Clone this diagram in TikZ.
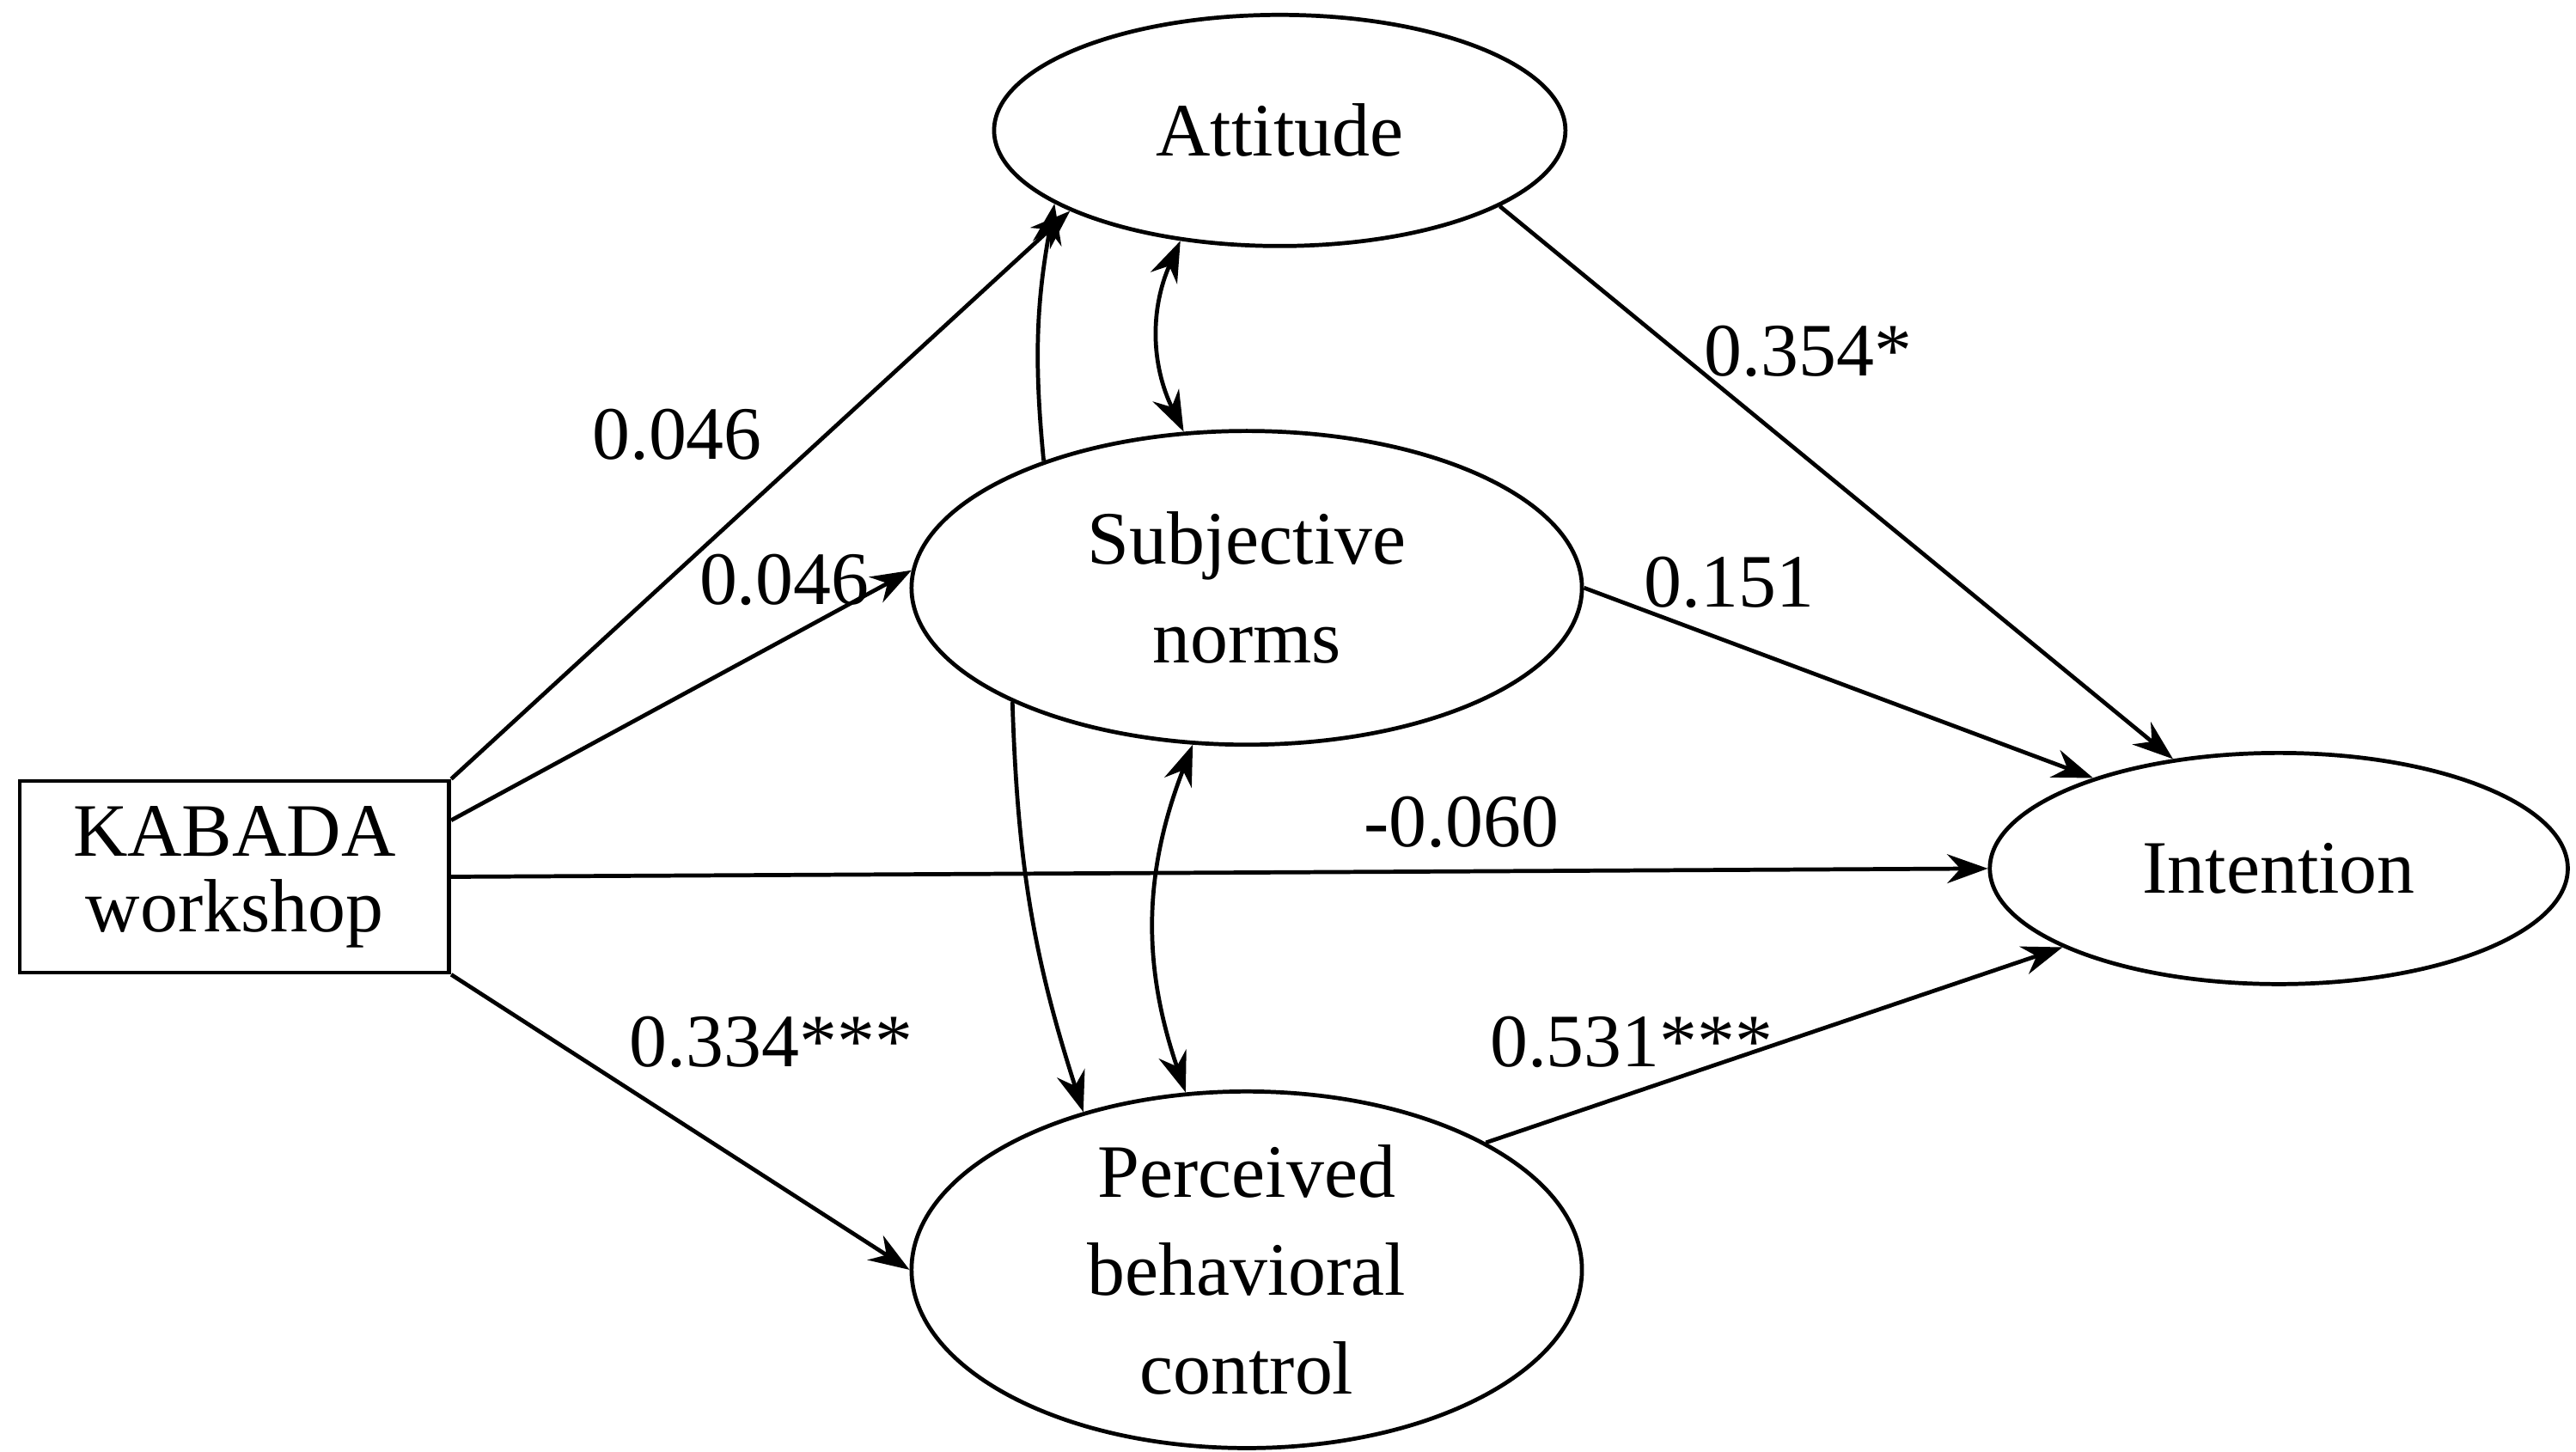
\documentclass[tikz,border=0pt]{standalone}
\usepackage{fontspec}
\setmainfont{Liberation Serif}
\usetikzlibrary{arrows.meta,shapes.geometric}

\begin{document}
\begin{tikzpicture}[
    line width = 0.7pt,
    >={Stealth[length=7pt,width=5pt]},
    font = \fontsize{13}{15}\selectfont,
    latent/.style = {
      draw,
      ellipse,
      inner sep = 0pt,
      align = center
    },
    observed/.style = {
      draw,
      rectangle,
      inner sep = 0pt,
      align = center,
      minimum width = 2.6cm,
      minimum height = 1.16cm
    },
    coef/.style = {
      inner sep = 1pt
    }
  ]
  \useasboundingbox (0,0) rectangle (15.6,8.79);

  \node[observed] (kab) at (1.42,3.48) {KABADA\\[-2pt]workshop};

  \node[latent, minimum width = 3.46cm, minimum height = 1.40cm] (att) at (7.75,8.00) {Attitude};
  \node[latent, minimum width = 4.06cm, minimum height = 1.90cm] (sn)  at (7.55,5.23) {Subjective\\[2pt]norms};
  \node[latent, minimum width = 4.06cm, minimum height = 2.16cm] (pbc) at (7.55,1.10) {Perceived\\[2pt]behavioral\\[2pt]control};
  \node[latent, minimum width = 3.50cm, minimum height = 1.40cm] (int) at (13.80,3.53) {Intention};

  \draw[->] (kab.north east) -- (att.201);
  \draw[->] ([yshift=-0.25cm]kab.north east) -- (sn.177);
  \draw[->] (kab.east) -- (int.west);
  \draw[->] (kab.south east) -- (pbc.west);

  \draw[->] (att.-19) -- (int.134);
  \draw[->] (sn.east) -- (int.154);
  \draw[->] (pbc.28) -- (int.200);

  \draw[->] (sn.148) to[bend left=8] (att.198);
  \draw[->] (sn.206) to[bend right=8] (pbc.136);
  \draw[<->] (att.228) to[bend right=25] (sn.112);
  \draw[<->] (sn.251) to[bend right=20] (pbc.109);

  \node[coef] (c1) at (4.10,6.16) {0.046};
  \node[coef] (c2) at (4.75,5.28) {0.046};
  \node[coef] (c3) at (8.85,3.81) {-0.060};
  \node[coef] (c4) at (4.67,2.48) {0.334***};
  \node[coef] (c5) at (10.95,6.66) {0.354*};
  \node[coef] (c6) at (10.47,5.26) {0.151};
  \node[coef] (c7) at (9.88,2.48) {0.531***};
\end{tikzpicture}
\end{document}
